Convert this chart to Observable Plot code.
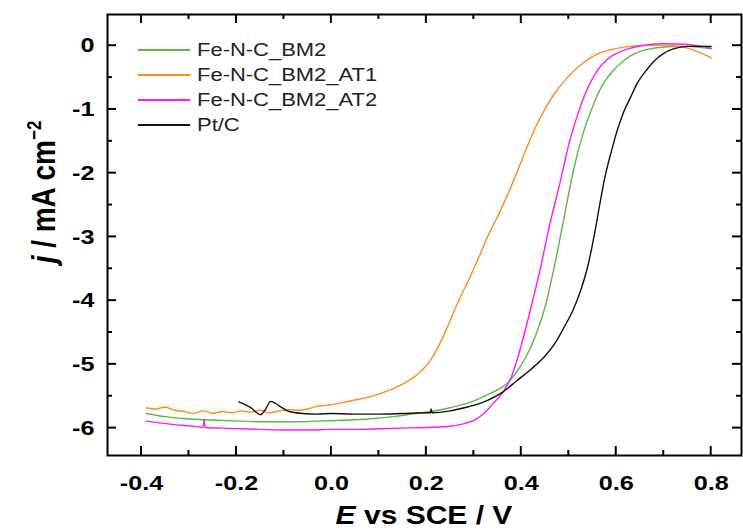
<!DOCTYPE html>
<html><head><meta charset="utf-8">
<script src="https://cdn.jsdelivr.net/npm/d3@7"></script>
<script src="https://cdn.jsdelivr.net/npm/@observablehq/plot@0.6"></script>
<style>body{margin:0;background:#fff}</style>
</head><body><div id="chart"></div>
<script>
// ---- data ----
const seriesNames = ["Fe-N-C_BM2", "Fe-N-C_BM2_AT1", "Fe-N-C_BM2_AT2", "Pt/C"];
const seriesColors = ["#5cb848", "#ff8c1a", "#ff19ff", "#111111"];

const bm2E = [-0.39,-0.35,-0.31,-0.27,-0.23,-0.19,-0.15,-0.11,-0.07,-0.03,0.01,0.05,0.09,0.13,0.17,0.21,0.25,0.29,0.31,0.33,0.35,0.37,0.39,0.41,0.43,0.45,0.47,0.49,0.51,0.53,0.55,0.57,0.59,0.61,0.63,0.65,0.67,0.70,0.75,0.80];
const bm2J = [-5.77,-5.82,-5.85,-5.87,-5.88,-5.89,-5.90,-5.90,-5.90,-5.89,-5.88,-5.87,-5.85,-5.82,-5.78,-5.74,-5.68,-5.60,-5.54,-5.47,-5.40,-5.30,-5.12,-4.88,-4.55,-4.10,-3.45,-2.70,-1.95,-1.38,-0.96,-0.63,-0.42,-0.27,-0.16,-0.09,-0.05,-0.02,-0.01,-0.05];

const at1E = [-0.39,-0.37,-0.35,-0.33,-0.31,-0.29,-0.27,-0.25,-0.23,-0.21,-0.19,-0.17,-0.15,-0.13,-0.11,-0.09,-0.07,-0.05,-0.03,-0.01,0.01,0.03,0.05,0.07,0.09,0.11,0.13,0.15,0.17,0.19,0.21,0.23,0.25,0.27,0.29,0.31,0.33,0.35,0.37,0.39,0.41,0.43,0.45,0.47,0.49,0.51,0.53,0.55,0.57,0.59,0.61,0.63,0.65,0.70,0.72,0.74,0.76,0.78,0.80];
const at1J = [-5.68,-5.70,-5.67,-5.72,-5.74,-5.77,-5.73,-5.77,-5.74,-5.76,-5.73,-5.75,-5.72,-5.76,-5.73,-5.71,-5.72,-5.70,-5.66,-5.64,-5.62,-5.59,-5.56,-5.53,-5.49,-5.44,-5.38,-5.31,-5.22,-5.10,-4.92,-4.65,-4.32,-3.97,-3.66,-3.33,-2.98,-2.68,-2.36,-2.00,-1.63,-1.28,-0.99,-0.75,-0.56,-0.40,-0.27,-0.17,-0.10,-0.06,-0.03,-0.01,0.00,0.01,0.00,-0.02,-0.06,-0.12,-0.19];

const at2E = [-0.39,-0.35,-0.31,-0.28,-0.27,-0.268,-0.266,-0.23,-0.19,-0.15,-0.10,-0.05,0.00,0.05,0.10,0.15,0.20,0.25,0.28,0.30,0.32,0.34,0.36,0.38,0.40,0.42,0.44,0.46,0.48,0.50,0.52,0.54,0.56,0.58,0.60,0.62,0.64,0.66,0.70,0.75,0.80];
const at2J = [-5.89,-5.93,-5.96,-5.98,-5.99,-5.86,-5.99,-6.00,-6.01,-6.02,-6.03,-6.03,-6.02,-6.02,-6.01,-6.00,-5.99,-5.97,-5.93,-5.88,-5.78,-5.62,-5.45,-5.18,-4.70,-4.12,-3.50,-2.80,-2.20,-1.55,-1.05,-0.66,-0.39,-0.22,-0.12,-0.06,-0.02,0.01,0.03,0.02,-0.04];

const ptcE = [-0.195,-0.17,-0.149,-0.14,-0.128,-0.11,-0.089,-0.06,-0.03,0.00,0.05,0.10,0.15,0.20,0.209,0.21,0.212,0.25,0.28,0.31,0.33,0.36,0.39,0.42,0.45,0.47,0.49,0.51,0.525,0.54,0.553,0.565,0.575,0.59,0.602,0.615,0.63,0.645,0.665,0.68,0.70,0.72,0.75,0.80];
const ptcJ = [-5.59,-5.68,-5.79,-5.72,-5.58,-5.65,-5.74,-5.77,-5.78,-5.77,-5.78,-5.78,-5.77,-5.76,-5.76,-5.70,-5.76,-5.73,-5.68,-5.62,-5.56,-5.44,-5.26,-5.08,-4.87,-4.68,-4.42,-4.13,-3.84,-3.46,-3.00,-2.50,-2.10,-1.65,-1.33,-1.05,-0.81,-0.58,-0.37,-0.24,-0.12,-0.05,-0.01,-0.01];

const xTicks = [-0.4,-0.2,0.0,0.2,0.4,0.6,0.8];
const xMinor = [-0.3,-0.1,0.1,0.3,0.5,0.7];
const yTicks = [0,-1,-2,-3,-4,-5,-6];
const yMinor = [-0.5,-1.5,-2.5,-3.5,-4.5,-5.5];
const xDomain = [-0.4716, 0.8638];
const yDomain = [-6.43, 0.49];

// ---- build table ----
const seriesE = [bm2E, at1E, at2E, ptcE];
const seriesJ = [bm2J, at1J, at2J, ptcJ];
const rows = [];
seriesNames.forEach((name, k) => {
  seriesE[k].forEach((e, i) => rows.push({series: name, E: e, j: seriesJ[k][i]}));
});

const W = 743, H = 531, ML = 107, MR = 2, MT = 14, MB = 76;
const FW = W - ML - MR, FH = H - MT - MB;
const MJ = 9, MN = 5;
const plot = Plot.plot({
  width: W, height: H,
  marginLeft: ML, marginRight: MR, marginTop: MT, marginBottom: MB,
  style: {fontFamily: "'Liberation Sans', Arial, sans-serif", background: "white"},
  x: {domain: xDomain},
  y: {domain: yDomain},
  color: {domain: seriesNames, range: seriesColors},
  marks: [
    Plot.line(rows, {x: "E", y: "j", stroke: "series", z: "series", strokeWidth: 1.4, curve: "monotone-x"}),
    Plot.frame({strokeWidth: 2, stroke: "black"}),
    Plot.axisX(xTicks, {tickSize: 0, tickPadding: 20, fontSize: 21, fontWeight: "bold", fill: "black", tickFormat: d => d.toFixed(1), label: null}),
    Plot.axisY(yTicks, {tickSize: 0, tickPadding: 13, fontSize: 21, fontWeight: "bold", fill: "black", tickFormat: d => String(d), label: null})
  ]
});
document.getElementById("chart").appendChild(plot);

const svg = d3.select(plot);
const stretch = 1.2;
svg.selectAll("text").each(function() {
  const t = this.textContent;
  if (!t) return;
  const len = this.getComputedTextLength();
  if (len > 0) d3.select(this).attr("textLength", len * stretch).attr("lengthAdjust", "spacingAndGlyphs");
});

// inward ticks on all four sides, positioned with Plot's own scales
const sx = plot.scale("x"), sy = plot.scale("y");
const x0 = ML, x1 = W - MR, y0 = MT, y1 = H - MB;
const tg = svg.append("g").attr("stroke", "black").attr("stroke-width", 2);
[[xTicks, MJ], [xMinor, MN]].forEach(([vals, len]) => vals.forEach(v => {
  const px = sx.apply(v);
  tg.append("line").attr("x1", px).attr("x2", px).attr("y1", y1).attr("y2", y1 - len);
  tg.append("line").attr("x1", px).attr("x2", px).attr("y1", y0).attr("y2", y0 + len);
}));
[[yTicks, MJ], [yMinor, MN]].forEach(([vals, len]) => vals.forEach(v => {
  const py = sy.apply(v);
  tg.append("line").attr("y1", py).attr("y2", py).attr("x1", x0).attr("x2", x0 + len);
  tg.append("line").attr("y1", py).attr("y2", py).attr("x1", x1).attr("x2", x1 - len);
}));

// legend
const legend = svg.append("g").attr("font-family", "'Liberation Sans', Arial, sans-serif").attr("text-anchor", "start");
seriesNames.forEach((name, i) => {
  const y = 50 + i * 25;
  legend.append("line").attr("x1", 138).attr("x2", 190).attr("y1", y).attr("y2", y)
    .attr("stroke", seriesColors[i]).attr("stroke-width", 2);
  const tx = legend.append("text").attr("x", 197).attr("y", y).attr("dy", "0.35em")
    .attr("text-anchor", "start").attr("font-size", 18).attr("fill", "#222").text(name);
  tx.attr("textLength", tx.node().getComputedTextLength() * 1.22).attr("lengthAdjust", "spacingAndGlyphs");
});

// axis titles
const xt = svg.append("text").attr("x", 424).attr("y", 524).attr("text-anchor", "middle")
  .attr("font-family", "'Liberation Sans', Arial, sans-serif").attr("font-size", 25).attr("font-weight", "bold");
xt.append("tspan").attr("font-style", "italic").text("E");
xt.append("tspan").text(" vs SCE / V");
xt.attr("textLength", xt.node().getComputedTextLength() * stretch).attr("lengthAdjust", "spacingAndGlyphs");

const yt = svg.append("text").attr("transform", "translate(55,192) rotate(-90) scale(1,1.2)")
  .attr("text-anchor", "middle")
  .attr("font-family", "'Liberation Sans', Arial, sans-serif").attr("font-size", 28).attr("font-weight", "bold");
yt.append("tspan").attr("font-style", "italic").text("j");
yt.append("tspan").text(" / mA cm");
yt.append("tspan").attr("font-size", 17).attr("dy", "-0.7em").text("\u22122");
</script>
</body></html>
